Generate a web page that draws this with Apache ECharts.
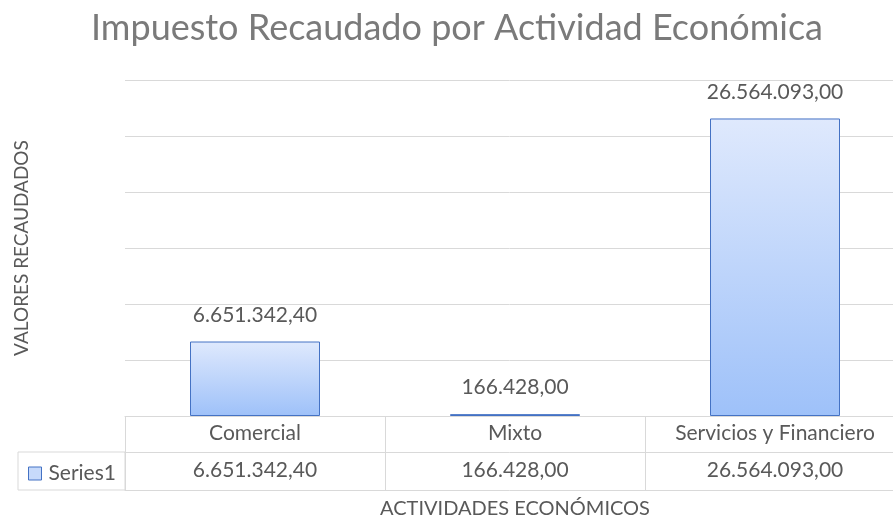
<!DOCTYPE html>
<html lang="es" style="height: 100%">
<head>
    <meta charset="utf-8">
</head>
<body style="height: 100%; margin: 0; background: #fff">
    <div id="container" style="width: 893px; height: 521px"></div>
    <script type="text/javascript" src="https://cdn.jsdelivr.net/npm/echarts@6/dist/echarts.min.js"></script>
    <script type="text/javascript">
        // datos del grafico
        var categorias = ['Comercial', 'Mixto', 'Servicios y Financiero'];
        var valores = [6651342.40, 166428.00, 26564093.00];
        var serieNombre = 'Series1';

        var gris = '#595959';
        var linea = '#d9d9d9';
        var fuente = 'Lato';

        // formato 1.234.567,89
        function fmt(v) {
            var partes = v.toFixed(2).split('.');
            var entero = partes[0].replace(/\B(?=(\d{3})+(?!\d))/g, '.');
            return entero + ',' + partes[1];
        }

        var dom = document.getElementById('container');
        var myChart = echarts.init(dom, null, { renderer: 'canvas' });

        var option = {
            animation: false,
            textStyle: { fontFamily: fuente },
            title: {
                text: 'Impuesto Recaudado por Actividad Económica',
                left: 452,
                textAlign: 'center',
                top: 5,
                textStyle: { fontFamily: fuente, fontSize: 36, fontWeight: 'normal', color: '#7a7a7a' }
            },
            legend: {
                left: 23,
                top: 458,
                itemWidth: 13,
                itemHeight: 13,
                itemGap: 3,
                textStyle: { fontFamily: fuente, fontSize: 21, color: gris, padding: [0, 0, 0, 2] },
                data: [{
                    name: serieNombre,
                    icon: 'rect',
                    itemStyle: { color: '#c7dafb', borderColor: '#4472c4', borderWidth: 1 }
                }]
            },
            grid: { left: 125, width: 780, top: 80, bottom: 105, outerBoundsMode: 'none' },
            xAxis: [
                {
                    type: 'category',
                    data: categorias,
                    position: 'bottom',
                    axisLine: { show: true, lineStyle: { color: linea } },
                    axisTick: { show: true, length: 74, lineStyle: { color: linea } },
                    axisLabel: { fontFamily: fuente, fontSize: 21, color: gris, margin: 7 }
                },
                {
                    type: 'category',
                    data: categorias,
                    position: 'bottom',
                    offset: 36,
                    axisLine: { show: true, lineStyle: { color: linea } },
                    axisTick: { show: false },
                    axisLabel: {
                        fontFamily: fuente, fontSize: 21, color: gris, margin: 8,
                        formatter: function (v, i) { return fmt(valores[i]); }
                    }
                },
                {
                    type: 'category',
                    data: categorias,
                    position: 'bottom',
                    offset: 74,
                    axisLine: { show: true, lineStyle: { color: linea } },
                    axisTick: { show: false },
                    axisLabel: { show: false },
                    name: 'ACTIVIDADES ECONÓMICOS',
                    nameLocation: 'middle',
                    nameGap: 9,
                    nameTextStyle: { fontFamily: fuente, fontSize: 20, color: gris }
                }
            ],
            yAxis: {
                type: 'value',
                min: 0,
                max: 30000000,
                interval: 5000000,
                axisLine: { show: false },
                axisTick: { show: false },
                axisLabel: { show: false },
                splitLine: { lineStyle: { color: linea } },
                name: 'VALORES RECAUDADOS',
                nameLocation: 'middle',
                nameRotate: 90,
                nameGap: 94,
                nameTextStyle: { fontFamily: fuente, fontSize: 19, color: gris }
            },
            graphic: [
                {
                    type: 'rect',
                    shape: { x: 18, y: 452, width: 107, height: 38 },
                    style: { fill: 'none', stroke: linea, lineWidth: 1 },
                    silent: true
                }
            ],
            series: [{
                name: serieNombre,
                type: 'bar',
                xAxisIndex: 0,
                data: valores,
                barWidth: '50%',
                itemStyle: {
                    color: new echarts.graphic.LinearGradient(0, 0, 0, 1, [
                        { offset: 0, color: '#dfe9fd' },
                        { offset: 1, color: '#9ec1f9' }
                    ]),
                    borderColor: '#4472c4',
                    borderWidth: 1
                },
                label: {
                    show: true,
                    position: 'top',
                    distance: 16,
                    fontFamily: fuente,
                    fontSize: 21,
                    color: gris,
                    formatter: function (p) { return fmt(p.value); }
                }
            }]
        };

        myChart.setOption(option);
        window.addEventListener('resize', myChart.resize);
    </script>
</body>
</html>
